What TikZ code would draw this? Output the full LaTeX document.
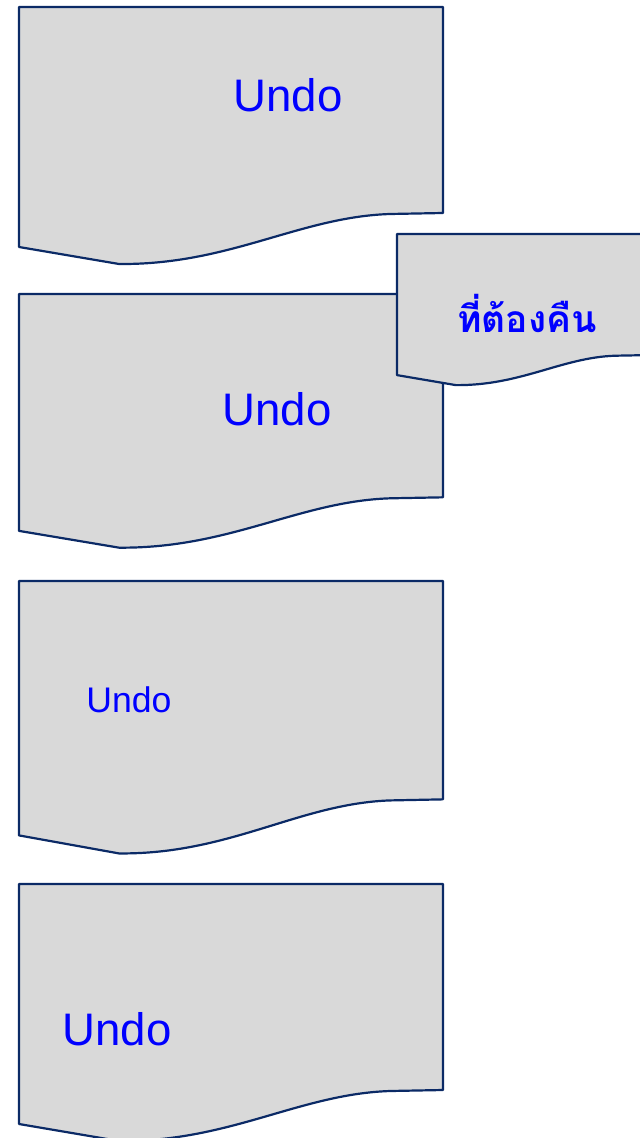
\documentclass[tikz,border=0pt]{standalone}
\usepackage{fontspec}
\setmainfont{Liberation Sans}
\newfontfamily\thaifont[Script=Thai]{Loma}
\definecolor{docline}{HTML}{0B2A66}
\definecolor{docfill}{HTML}{D9D9D9}
\definecolor{txtblue}{HTML}{0000FF}
\tikzset{
  docshape/.style={draw=docline, fill=docfill, line width=1.1pt, line join=round},
  bigtxt/.style={text=txtblue, font=\fontsize{22.8}{26}\selectfont, inner sep=0pt},
  smalltxt/.style={text=txtblue, font=\fontsize{17.8}{21}\selectfont, inner sep=0pt},
  thaitxt/.style={text=txtblue, font=\thaifont\bfseries\fontsize{18.6}{22}\selectfont, inner sep=0pt}
}
\newcommand\docpath[4]{%
  \begin{scope}[shift={(#1,#2)}, xscale=#3, yscale=#4]
    \path[docshape] (0,0) -- (424,0) -- (424,206) -- (371,207)
      .. controls (280,210) and (211,258) .. (100,257) -- (0,240) -- cycle;
  \end{scope}}
\begin{document}
\begin{tikzpicture}[x=0.5pt,y=-0.5pt]
\useasboundingbox (0,0) rectangle (640,1138);
\docpath{19}{7}{1}{1}
\docpath{19}{294}{1}{0.987}
\docpath{397}{234}{0.588}{0.588}
\docpath{19}{581}{1}{1.06}
\docpath{19}{884}{1}{1}
\node[bigtxt] (u1) at (288,95) {Undo};
\node[bigtxt] (u2) at (277,409) {Undo};
\node[smalltxt] (u3) at (129,700) {Undo};
\node[bigtxt] (u4) at (117,1029) {Undo};
\node[thaitxt] (th) at (527,313) {ที่ต้องคืน};
\end{tikzpicture}
\end{document}
